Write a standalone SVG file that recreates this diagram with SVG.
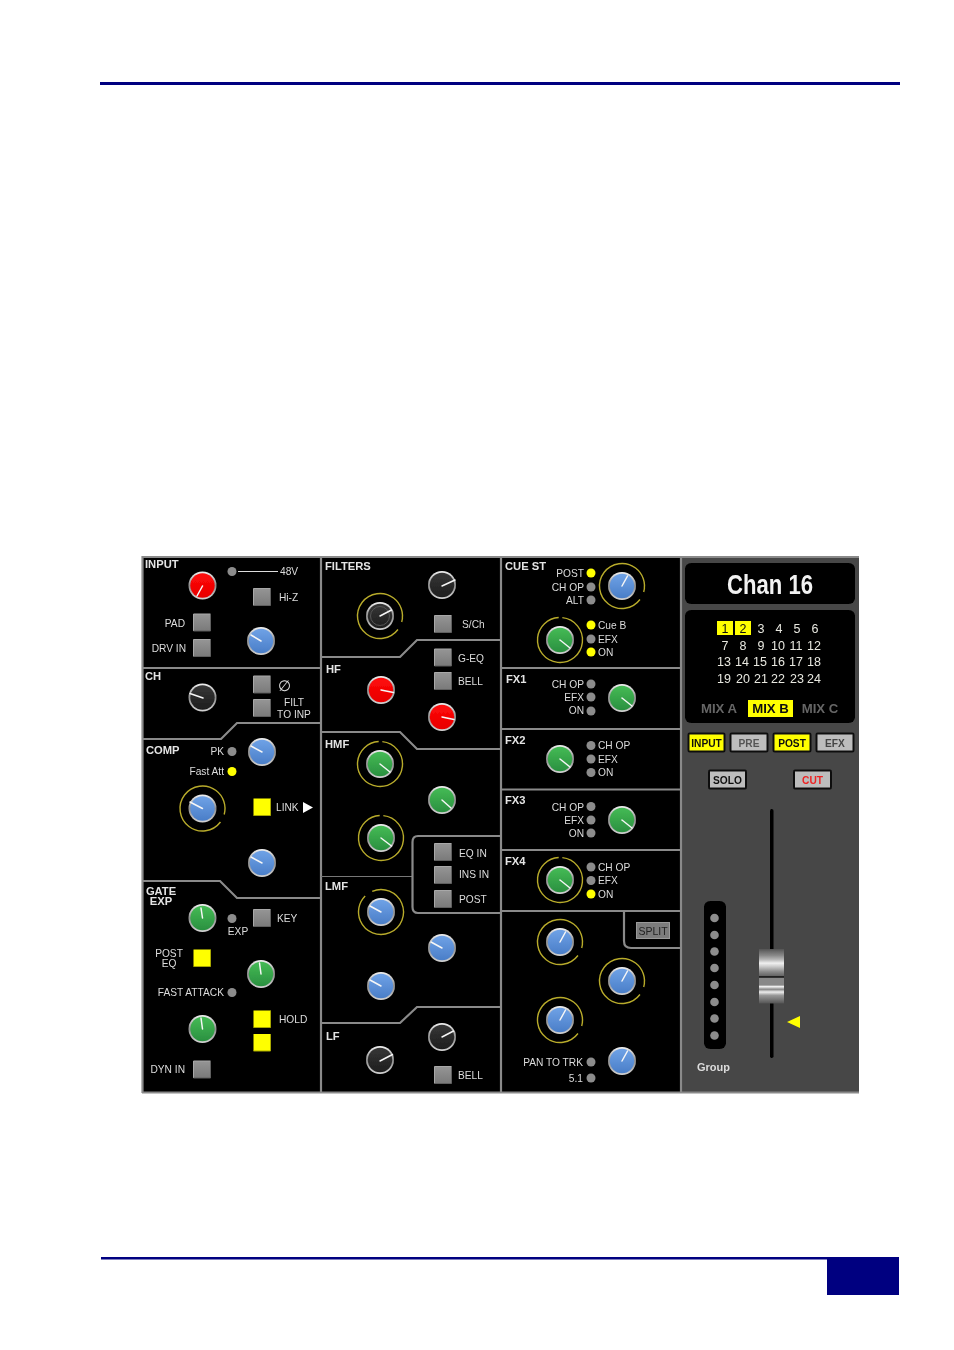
<svg xmlns="http://www.w3.org/2000/svg" width="954" height="1350" viewBox="0 0 954 1350">
<style>
text{font-family:"Liberation Sans",Arial,sans-serif;font-size:10.2px;fill:#dcdcdc}
.b{font-weight:bold;font-size:11.2px;fill:#e4e4e4}
.e{text-anchor:end}.m{text-anchor:middle}
.div{fill:none;stroke:#8a8a8a;stroke-width:2.2}
.thin{fill:none;stroke:#777;stroke-width:1}
.p{stroke:#f6f6f6;stroke-width:1.5;stroke-linecap:round}
.ring{fill:none;stroke:#b8ab2c;stroke-width:1.4}
.r1{stroke-dasharray:132 9.4}.r2{stroke-dasharray:136.7 4.7}
.led{fill:#8c8c8c}.on{fill:#ffff00}
.bt{stroke:#111;stroke-width:2;fill:#bdbdbd}.by{fill:#ffff00}
.bl{font-weight:bold;font-size:10.2px;fill:#111;text-anchor:middle}
.dim{font-weight:bold;font-size:13.2px;fill:#666;text-anchor:middle}
.num{font-size:12.5px;fill:#e8e8e0;text-anchor:middle}
</style>
<defs>
<filter id="soft" x="-2%" y="-2%" width="104%" height="104%"><feGaussianBlur stdDeviation="0.35"/></filter>
<linearGradient id="rim" x1="0" y1="0" x2="0" y2="1"><stop offset="0" stop-color="#f2f2f2"/><stop offset="0.5" stop-color="#8e8e8e"/><stop offset="1" stop-color="#d4d4d4"/></linearGradient>
<linearGradient id="gB" x1="0" y1="0" x2="0" y2="1"><stop offset="0" stop-color="#6fa2e6"/><stop offset="1" stop-color="#4a7ec8"/></linearGradient>
<linearGradient id="gG" x1="0" y1="0" x2="0" y2="1"><stop offset="0" stop-color="#45bb55"/><stop offset="1" stop-color="#2a9040"/></linearGradient>
<linearGradient id="gR" x1="0" y1="0" x2="0" y2="1"><stop offset="0" stop-color="#ff0a0a"/><stop offset="1" stop-color="#e80000"/></linearGradient>
<linearGradient id="gD" x1="0" y1="0" x2="0" y2="1"><stop offset="0" stop-color="#363636"/><stop offset="1" stop-color="#1e1e1e"/></linearGradient>
<linearGradient id="sqg" x1="0" y1="0" x2="0" y2="1"><stop offset="0" stop-color="#959595"/><stop offset="1" stop-color="#7a7a7a"/></linearGradient>
<linearGradient id="fad" x1="0" y1="0" x2="0" y2="1">
<stop offset="0" stop-color="#555"/><stop offset="0.12" stop-color="#8a8a8a"/><stop offset="0.2" stop-color="#bbb"/><stop offset="0.26" stop-color="#f0f0f0"/><stop offset="0.32" stop-color="#ccc"/><stop offset="0.42" stop-color="#888"/><stop offset="0.49" stop-color="#666"/><stop offset="0.5" stop-color="#222"/><stop offset="0.52" stop-color="#222"/><stop offset="0.54" stop-color="#888"/><stop offset="0.66" stop-color="#888"/><stop offset="0.69" stop-color="#f4f4f4"/><stop offset="0.74" stop-color="#888"/><stop offset="0.79" stop-color="#eee"/><stop offset="0.85" stop-color="#999"/><stop offset="1" stop-color="#555"/></linearGradient>
<g id="kb"><circle r="14" fill="url(#rim)"/><circle r="12.2" fill="url(#gB)"/></g>
<g id="kg"><circle r="14" fill="url(#rim)"/><circle r="12.2" fill="url(#gG)"/></g>
<g id="kr"><circle r="14" fill="url(#rim)"/><circle r="12.2" fill="url(#gR)"/></g>
<g id="kd"><circle r="14" fill="url(#rim)"/><circle r="12.2" fill="url(#gD)"/></g>
<g id="sq"><rect x="-8.5" y="-8.5" width="17" height="17" fill="url(#sqg)"/><path d="M-8.5 8.5V-8.5H8.5" fill="none" stroke="#a8a8a8"/><path d="M8.5 -8.5V8.5H-8.5" fill="none" stroke="#5e5e5e"/></g>
<g id="sy"><rect x="-8.5" y="-8.5" width="17" height="17" fill="#ffff00"/><path d="M8.5 -8.5V8.5H-8.5" fill="none" stroke="#a8a800"/></g>
</defs>

<g id="page-rules">
<rect x="100" y="82" width="800" height="3" fill="#000080"/>
<rect x="101" y="1257" width="798" height="2.5" fill="#000080"/>
<rect x="827" y="1258" width="72" height="37" fill="#000080"/>
</g>

<g id="console" filter="url(#soft)">
<rect x="142" y="556" width="717" height="537" fill="#000"/>
<rect id="strip" x="681" y="556" width="178" height="537" fill="#474747"/>

<g id="connectors">
<path class="div" d="M142 557H859M142 1092.500H859M142.500 556V1093M321 556V1093M501 556V1093M681 556V1093"/>
<path class="div" d="M142 668H321M142 739H221L237 723H321M142 881H220L237 898H321"/>
<path class="div" d="M321 657H400L417 640H501M321 732H400L417 749H501M321 1023H400L417 1007H501"/>
<path class="thin" d="M321 876.500H412"/>
<path class="div" d="M501 836H418Q412.500 836 412.500 842V907Q412.500 913 418 913H501"/>
<path class="div" d="M501 668H681M501 729H681M501 789.500H681M501 850H681M501 911H681"/>
<path class="div" d="M624 911V941Q624 948 631 948H681"/>
</g>

<g id="sec-input">
<text class="b" x="145" y="568">INPUT</text>
<g id="k-input"><use href="#kr" x="202.500" y="585.500"/><line class="p" x1="202.500" y1="586" x2="197" y2="596"/></g>
<circle class="led" cx="232" cy="571.500" r="4.500"/><line x1="238" y1="571.500" x2="278" y2="571.500" stroke="#ddd" stroke-width="1"/>
<text x="280" y="575">48V</text>
<use href="#sq" x="262" y="597"/><text x="279" y="601">Hi-Z</text>
<use href="#sq" x="202" y="622.500"/><text class="e" x="185" y="627">PAD</text>
<use href="#sq" x="202" y="648"/><text class="e" x="186" y="652">DRV IN</text>
<g id="k-trim"><use href="#kb" x="261" y="641"/><line class="p" x1="261" y1="641" x2="251" y2="635"/></g>
</g>

<g id="sec-ch">
<text class="b" x="145" y="680">CH</text>
<g id="k-ch"><use href="#kd" x="202.500" y="697.500"/><line class="p" x1="203" y1="698" x2="190" y2="693.500"/></g>
<use href="#sq" x="262" y="684.500"/><text x="278" y="691" style="font-family:'DejaVu Sans',sans-serif;font-size:15px">∅</text>
<use href="#sq" x="262" y="708"/>
<text class="m" x="294" y="706">FILT</text><text class="m" x="294" y="717.500">TO INP</text>
</g>

<g id="sec-comp">
<text class="b" x="146" y="754">COMP</text>
<text class="e" x="224" y="755">PK</text><circle class="led" cx="232" cy="751.500" r="4.500"/>
<text class="e" x="224" y="775">Fast Att</text><circle class="on" cx="232" cy="771.500" r="4.500"/>
<g id="k-comp1"><use href="#kb" x="262" y="752"/><line class="p" x1="262" y1="752" x2="251" y2="746"/></g>
<g id="k-comp2"><circle class="ring r1" r="22.500" transform="translate(202.500 808.500) rotate(37)"/><use href="#kb" x="202.500" y="808.500"/><line class="p" x1="202.500" y1="808.500" x2="190" y2="802"/></g>
<g id="k-comp3"><use href="#kb" x="262" y="863"/><line class="p" x1="262" y1="863" x2="251" y2="857"/></g>
<use href="#sy" x="262" y="807"/>
<text x="276" y="811">LINK</text><path d="M303 802L313 807.500L303 813Z" fill="#fff"/>
</g>

<g id="sec-gate">
<text class="b m" x="161" y="895">GATE</text><text class="b m" x="161" y="905">EXP</text>
<g id="k-g1"><use href="#kg" x="202.500" y="918"/><line class="p" x1="202.500" y1="918" x2="201" y2="908"/></g>
<circle class="led" cx="232" cy="918.500" r="4.500"/><text class="m" x="238" y="935">EXP</text>
<use href="#sq" x="262" y="918"/><text x="277" y="922">KEY</text>
<text class="m" x="169" y="957">POST</text><text class="m" x="169" y="967">EQ</text>
<use href="#sy" x="202" y="958"/>
<g id="k-g2"><use href="#kg" x="261" y="974"/><line class="p" x1="261" y1="974" x2="259.500" y2="963"/></g>
<text class="e" x="224" y="996">FAST ATTACK</text><circle class="led" cx="232" cy="992.500" r="4.500"/>
<g id="k-g3"><use href="#kg" x="202.500" y="1029"/><line class="p" x1="202.500" y1="1029" x2="201" y2="1018"/></g>
<use href="#sy" x="262" y="1019"/><text x="279" y="1023">HOLD</text>
<use href="#sy" x="262" y="1042.500"/>
<use href="#sq" x="202" y="1069.500"/><text class="e" x="185" y="1073">DYN IN</text>
</g>

<g id="sec-filters">
<text class="b" x="325" y="570">FILTERS</text>
<g id="k-f1"><circle class="ring r1" r="22.500" transform="translate(380 616) rotate(37)"/><use href="#kd" x="380" y="616"/><circle cx="380" cy="616" r="9.500" fill="none" stroke="#555"/><line class="p" x1="380" y1="616" x2="391.500" y2="610"/></g>
<g id="k-f2"><use href="#kd" x="442" y="585"/><line class="p" x1="442" y1="586" x2="455" y2="580"/></g>
<use href="#sq" x="443" y="624"/><text x="462" y="628">S/Ch</text>
</g>

<g id="sec-hf">
<text class="b" x="326" y="673">HF</text>
<use href="#sq" x="443" y="657.500"/><text x="458" y="662">G-EQ</text>
<use href="#sq" x="443" y="681"/><text x="458" y="685">BELL</text>
<g id="k-hf1"><use href="#kr" x="381" y="690"/><line class="p" x1="381" y1="690" x2="393.500" y2="692.500"/></g>
<g id="k-hf2"><use href="#kr" x="442" y="717"/><line class="p" x1="442" y1="717" x2="454" y2="719.500"/></g>
</g>

<g id="sec-hmf">
<text class="b" x="325" y="748">HMF</text>
<g id="k-hmf1"><circle class="ring r2" r="22.500" transform="translate(380 764) rotate(-84)"/><use href="#kg" x="380" y="764"/><line class="p" x1="380" y1="764" x2="390" y2="772"/></g>
<g id="k-hmf2"><use href="#kg" x="442" y="800"/><line class="p" x1="442" y1="800" x2="451" y2="808"/></g>
<g id="k-hmf3"><circle class="ring r2" r="22.500" transform="translate(381 838) rotate(-84)"/><use href="#kg" x="381" y="838"/><line class="p" x1="381" y1="838" x2="391.500" y2="846"/></g>
</g>

<g id="sec-eq">
<use href="#sq" x="443" y="852"/><text x="459" y="857">EQ IN</text>
<use href="#sq" x="443" y="875"/><text x="459" y="878">INS IN</text>
<use href="#sq" x="443" y="899"/><text x="459" y="903">POST</text>
</g>

<g id="sec-lmf">
<text class="b" x="325" y="890">LMF</text>
<g id="k-lmf1"><circle class="ring r1" r="22.500" transform="translate(381 912) rotate(-113)"/><use href="#kb" x="381" y="912"/><line class="p" x1="381" y1="912" x2="370" y2="906"/></g>
<g id="k-lmf2"><use href="#kb" x="442" y="948"/><line class="p" x1="442" y1="948" x2="431" y2="942"/></g>
<g id="k-lmf3"><use href="#kb" x="381" y="986"/><line class="p" x1="381" y1="986" x2="370" y2="980"/></g>
</g>

<g id="sec-lf">
<text class="b" x="326" y="1040">LF</text>
<g id="k-lf1"><use href="#kd" x="442" y="1037"/><line class="p" x1="442" y1="1037" x2="453.500" y2="1031"/></g>
<g id="k-lf2"><use href="#kd" x="380" y="1060"/><line class="p" x1="380" y1="1061" x2="392.500" y2="1054.500"/></g>
<use href="#sq" x="443" y="1075"/><text x="458" y="1079">BELL</text>
</g>

<g id="sec-cue">
<text class="b" x="505" y="570">CUE ST</text>
<text class="e" x="584" y="577">POST</text><circle class="on" cx="591" cy="573" r="4.500"/>
<text class="e" x="584" y="591">CH OP</text><circle class="led" cx="591" cy="587" r="4.500"/>
<text class="e" x="584" y="604">ALT</text><circle class="led" cx="591" cy="600" r="4.500"/>
<g id="k-cue1"><circle class="ring r1" r="22.500" transform="translate(622 586) rotate(37)"/><use href="#kb" x="622" y="586"/><line class="p" x1="622" y1="586" x2="627.500" y2="576"/></g>
<g id="k-cue2"><circle class="ring r2" r="22.500" transform="translate(560 640) rotate(-84)"/><use href="#kg" x="560" y="640"/><line class="p" x1="560" y1="640" x2="570" y2="648"/></g>
<circle class="on" cx="591" cy="625" r="4.500"/><text x="598" y="629">Cue B</text>
<circle class="led" cx="591" cy="639" r="4.500"/><text x="598" y="643">EFX</text>
<circle class="on" cx="591" cy="652" r="4.500"/><text x="598" y="656">ON</text>
</g>

<g id="sec-fx1">
<text class="b" x="506" y="683">FX1</text>
<text class="e" x="584" y="688">CH OP</text><circle class="led" cx="591" cy="684" r="4.500"/>
<text class="e" x="584" y="701">EFX</text><circle class="led" cx="591" cy="697" r="4.500"/>
<text class="e" x="584" y="714">ON</text><circle class="led" cx="591" cy="711" r="4.500"/>
<g id="k-fx1"><use href="#kg" x="622" y="698"/><line class="p" x1="622" y1="698" x2="632" y2="706"/></g>
</g>

<g id="sec-fx2">
<text class="b" x="505" y="744">FX2</text>
<g id="k-fx2"><use href="#kg" x="560" y="759"/><line class="p" x1="560" y1="759" x2="570" y2="767"/></g>
<circle class="led" cx="591" cy="745.500" r="4.500"/><text x="598" y="749">CH OP</text>
<circle class="led" cx="591" cy="759" r="4.500"/><text x="598" y="763">EFX</text>
<circle class="led" cx="591" cy="772.500" r="4.500"/><text x="598" y="776">ON</text>
</g>

<g id="sec-fx3">
<text class="b" x="505" y="804">FX3</text>
<text class="e" x="584" y="811">CH OP</text><circle class="led" cx="591" cy="806.500" r="4.500"/>
<text class="e" x="584" y="824">EFX</text><circle class="led" cx="591" cy="820" r="4.500"/>
<text class="e" x="584" y="837">ON</text><circle class="led" cx="591" cy="833" r="4.500"/>
<g id="k-fx3"><use href="#kg" x="622" y="820"/><line class="p" x1="622" y1="820" x2="632" y2="828"/></g>
</g>

<g id="sec-fx4">
<text class="b" x="505" y="865">FX4</text>
<g id="k-fx4"><circle class="ring r2" r="22.500" transform="translate(560 880) rotate(-84)"/><use href="#kg" x="560" y="880"/><line class="p" x1="560" y1="880" x2="570" y2="888"/></g>
<circle class="led" cx="591" cy="867" r="4.500"/><text x="598" y="871">CH OP</text>
<circle class="led" cx="591" cy="880.500" r="4.500"/><text x="598" y="884">EFX</text>
<circle class="on" cx="591" cy="894" r="4.500"/><text x="598" y="898">ON</text>
</g>

<g id="sec-pan">
<g id="btn-split"><rect x="636.500" y="922.500" width="33" height="16" fill="#7c7c7c" stroke="#9a9a9a"/><text class="m" x="653" y="934.500" style="fill:#222;font-size:10.5px">SPLIT</text></g>
<g id="k-p1"><circle class="ring r1" r="22.500" transform="translate(560 942) rotate(37)"/><use href="#kb" x="560" y="942"/><line class="p" x1="560" y1="942" x2="565.500" y2="932"/></g>
<g id="k-p2"><circle class="ring r1" r="22.500" transform="translate(622 981) rotate(37)"/><use href="#kb" x="622" y="981"/><line class="p" x1="622" y1="981" x2="627.500" y2="971"/></g>
<g id="k-p3"><circle class="ring r1" r="22.500" transform="translate(560 1020) rotate(37)"/><use href="#kb" x="560" y="1020"/><line class="p" x1="560" y1="1020" x2="565.500" y2="1010"/></g>
<g id="k-p4"><use href="#kb" x="622" y="1061"/><line class="p" x1="622" y1="1061" x2="627.500" y2="1051"/></g>
<text class="e" x="583" y="1066">PAN TO TRK</text><circle class="led" cx="591" cy="1062" r="4.500"/>
<text class="e" x="583" y="1082">5.1</text><circle class="led" cx="591" cy="1078" r="4.500"/>
</g>

<g id="chan-name">
<rect x="685" y="563" width="170" height="41" rx="6" fill="#000"/>
<text class="m" x="770" y="594" style="font-size:27px;font-weight:bold;fill:#f2f2f2" textLength="86" lengthAdjust="spacingAndGlyphs">Chan 16</text>
</g>

<g id="routing">
<rect x="685" y="610" width="170" height="113" rx="6" fill="#000"/>
<rect x="717" y="621" width="16" height="14" fill="#ffff00"/><rect x="735" y="621" width="16" height="14" fill="#ffff00"/>
<text class="num" x="725" y="633" style="fill:#111">1</text><text class="num" x="743" y="633" style="fill:#111">2</text><text class="num" x="761" y="633">3</text><text class="num" x="779" y="633">4</text><text class="num" x="797" y="633">5</text><text class="num" x="815" y="633">6</text>
<text class="num" x="725" y="650">7</text><text class="num" x="743" y="650">8</text><text class="num" x="761" y="650">9</text><text class="num" x="778" y="650">10</text><text class="num" x="796" y="650">11</text><text class="num" x="814" y="650">12</text>
<text class="num" x="724" y="666">13</text><text class="num" x="742" y="666">14</text><text class="num" x="760" y="666">15</text><text class="num" x="778" y="666">16</text><text class="num" x="796" y="666">17</text><text class="num" x="814" y="666">18</text>
<text class="num" x="724" y="683">19</text><text class="num" x="743" y="683">20</text><text class="num" x="761" y="683">21</text><text class="num" x="778" y="683">22</text><text class="num" x="797" y="683">23</text><text class="num" x="814" y="683">24</text>
<text class="dim" x="719" y="713">MIX A</text>
<rect x="748" y="700" width="45" height="17" fill="#ffff00"/><text class="dim" x="770.500" y="713" style="fill:#111">MIX B</text>
<text class="dim" x="820" y="713">MIX C</text>
</g>

<g id="btn-input"><rect class="bt by" x="688.500" y="733.500" width="36" height="18" rx="1"/><text class="bl" x="706.500" y="746.500">INPUT</text></g>
<g id="btn-pre"><rect class="bt" x="730.500" y="733.500" width="37" height="18" rx="1"/><text class="bl" x="749" y="746.500" style="fill:#555">PRE</text></g>
<g id="btn-post"><rect class="bt by" x="773.500" y="733.500" width="37" height="18" rx="1"/><text class="bl" x="792" y="746.500">POST</text></g>
<g id="btn-efx"><rect class="bt" x="816.500" y="733.500" width="37" height="18" rx="1"/><text class="bl" x="835" y="746.500" style="fill:#444">EFX</text></g>
<g id="btn-solo"><rect class="bt" x="709" y="770.500" width="37" height="18" rx="1"/><text class="bl" x="727.500" y="783.500">SOLO</text></g>
<g id="btn-cut"><rect class="bt" x="794" y="770.500" width="37" height="18" rx="1"/><text class="bl" x="812.500" y="783.500" style="fill:#ee2222">CUT</text></g>

<g id="fader">
<rect x="770" y="809" width="3.500" height="249" rx="1.700" fill="#000"/>
<rect x="759" y="949" width="25" height="54.500" fill="url(#fad)"/>
<path d="M800 1016L787 1022L800 1028Z" fill="#ffff00"/>
</g>

<g id="group">
<rect x="704" y="901" width="22" height="148" rx="6" fill="#000"/>
<g fill="#8c8c8c"><circle cx="714.500" cy="918" r="4.300"/><circle cx="714.500" cy="935" r="4.300"/><circle cx="714.500" cy="951.500" r="4.300"/><circle cx="714.500" cy="968" r="4.300"/><circle cx="714.500" cy="985" r="4.300"/><circle cx="714.500" cy="1002" r="4.300"/><circle cx="714.500" cy="1018.500" r="4.300"/><circle cx="714.500" cy="1035.500" r="4.300"/></g>
<text x="697" y="1071" style="font-weight:bold;font-size:11px">Group</text>
</g>
</g>
</svg>
